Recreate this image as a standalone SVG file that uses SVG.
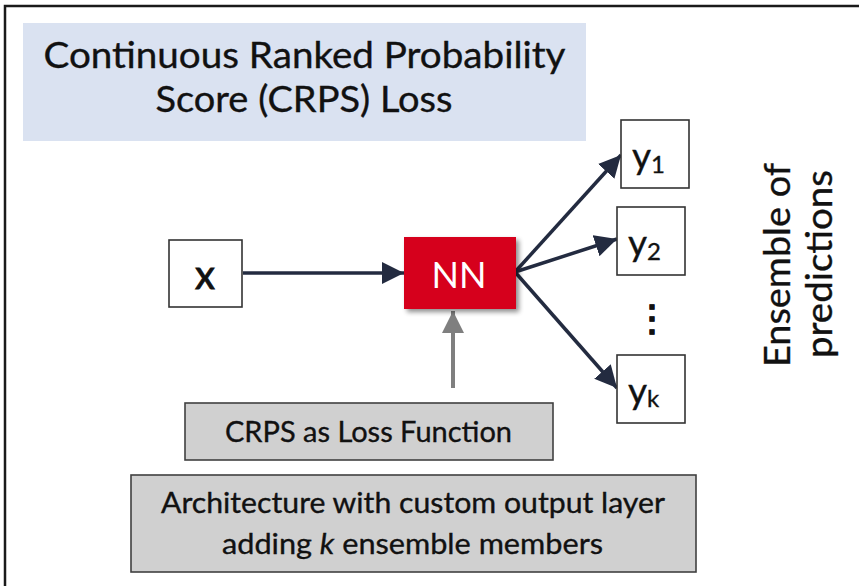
<svg xmlns="http://www.w3.org/2000/svg" width="859" height="586" viewBox="0 0 859 586">
  <style>
    text { font-family: Lato, "Open Sans", "Liberation Sans", sans-serif; fill: #111; stroke: #111; stroke-width: 0.35; }
    .box { fill: #ffffff; stroke: #333333; stroke-width: 1.6; }
    .grey { fill: #d0d0d0; stroke: #404040; stroke-width: 1.6; }
    .navy { stroke: #232b40; stroke-width: 3.5; fill: none; }
    .gline { stroke: #7f7f7f; stroke-width: 4; fill: none; }
    .sub { font-size: 24px; }
  </style>
  <defs>
    <marker id="arrNavy" markerUnits="userSpaceOnUse" viewBox="0 0 22 22" refX="22" refY="11" markerWidth="22" markerHeight="22" orient="auto">
      <path d="M0,0 L22,11 L0,22 Z" fill="#232b40"/>
    </marker>
    <marker id="arrGrey" markerUnits="userSpaceOnUse" viewBox="0 0 22 22" refX="22" refY="11" markerWidth="22" markerHeight="22" orient="auto">
      <path d="M0,0 L22,11 L0,22 Z" fill="#7f7f7f"/>
    </marker>
    <filter id="shadow" x="-20%" y="-20%" width="150%" height="150%">
      <feGaussianBlur in="SourceAlpha" stdDeviation="2.5"/>
      <feOffset dx="3" dy="3" result="b"/>
      <feComponentTransfer><feFuncA type="linear" slope="0.45"/></feComponentTransfer>
      <feMerge><feMergeNode/><feMergeNode in="SourceGraphic"/></feMerge>
    </filter>
  </defs>

  <rect width="859" height="586" fill="#ffffff"/>
  <!-- frame -->
  <path d="M5,586 V6 H859" fill="none" stroke="#1a1a1a" stroke-width="2.5"/>

  <!-- title banner -->
  <g id="title">
    <rect x="23" y="23" width="563" height="118" fill="#dae2f1"/>
    <text x="304.5" y="68" font-size="36" text-anchor="middle" textLength="522" lengthAdjust="spacingAndGlyphs">Continuous Ranked Probability</text>
    <text x="304" y="112" font-size="36" text-anchor="middle" textLength="297" lengthAdjust="spacingAndGlyphs">Score (CRPS) Loss</text>
  </g>

  <!-- connectors -->
  <g id="connectors">
    <line class="navy" x1="243" y1="273" x2="404" y2="273" marker-end="url(#arrNavy)"/>
    <line class="navy" x1="515" y1="272" x2="621" y2="155" marker-end="url(#arrNavy)"/>
    <line class="navy" x1="515" y1="272" x2="617" y2="239" marker-end="url(#arrNavy)"/>
    <line class="navy" x1="515" y1="272" x2="617" y2="388" marker-end="url(#arrNavy)"/>
    <line class="gline" x1="453" y1="388" x2="453" y2="311" marker-end="url(#arrGrey)"/>
  </g>

  <g id="node-x">
    <rect class="box" x="169" y="240" width="73" height="67"/>
    <text x="205" y="289" font-size="40" text-anchor="middle" style="stroke-width:0.9">x</text>
  </g>

  <g id="node-nn">
    <rect x="404" y="237" width="112" height="72" fill="#d6001c" filter="url(#shadow)"/>
    <text x="459" y="288" font-size="36" text-anchor="middle" style="fill:#ffffff;stroke:none">NN</text>
  </g>

  <g id="node-y1">
    <rect class="box" x="621" y="120" width="68" height="68"/>
    <text x="632" y="169" font-size="37">y<tspan class="sub" dy="4">1</tspan></text>
  </g>
  <g id="node-y2">
    <rect class="box" x="617" y="207" width="68" height="68"/>
    <text x="628" y="256" font-size="37">y<tspan class="sub" dy="4">2</tspan></text>
  </g>
  <g id="dots">
    <text x="652" y="331" font-size="36" font-weight="bold" text-anchor="middle">⋮</text>
  </g>
  <g id="node-yk">
    <rect class="box" x="617" y="355" width="68" height="68"/>
    <text x="628" y="404" font-size="37">y<tspan class="sub" dy="3">k</tspan></text>
  </g>

  <g id="ensemble-label">
    <text transform="translate(790,265) rotate(-90)" font-size="36" text-anchor="middle" textLength="204" lengthAdjust="spacingAndGlyphs">Ensemble of</text>
    <text transform="translate(832,264) rotate(-90)" font-size="36" text-anchor="middle" textLength="188" lengthAdjust="spacingAndGlyphs">predictions</text>
  </g>

  <g id="node-crps">
    <rect class="grey" x="185" y="403" width="368" height="57"/>
    <text x="368.5" y="442" font-size="28.5" text-anchor="middle" textLength="287" lengthAdjust="spacingAndGlyphs">CRPS as Loss Function</text>
  </g>

  <g id="node-arch">
    <rect class="grey" x="131" y="475" width="565" height="97"/>
    <text x="413" y="513" font-size="28.5" text-anchor="middle" textLength="504" lengthAdjust="spacingAndGlyphs">Architecture with custom output layer</text>
    <text x="412.5" y="554" font-size="28.5" text-anchor="middle" textLength="381" lengthAdjust="spacingAndGlyphs">adding <tspan font-style="italic">k</tspan> ensemble members</text>
  </g>
</svg>
